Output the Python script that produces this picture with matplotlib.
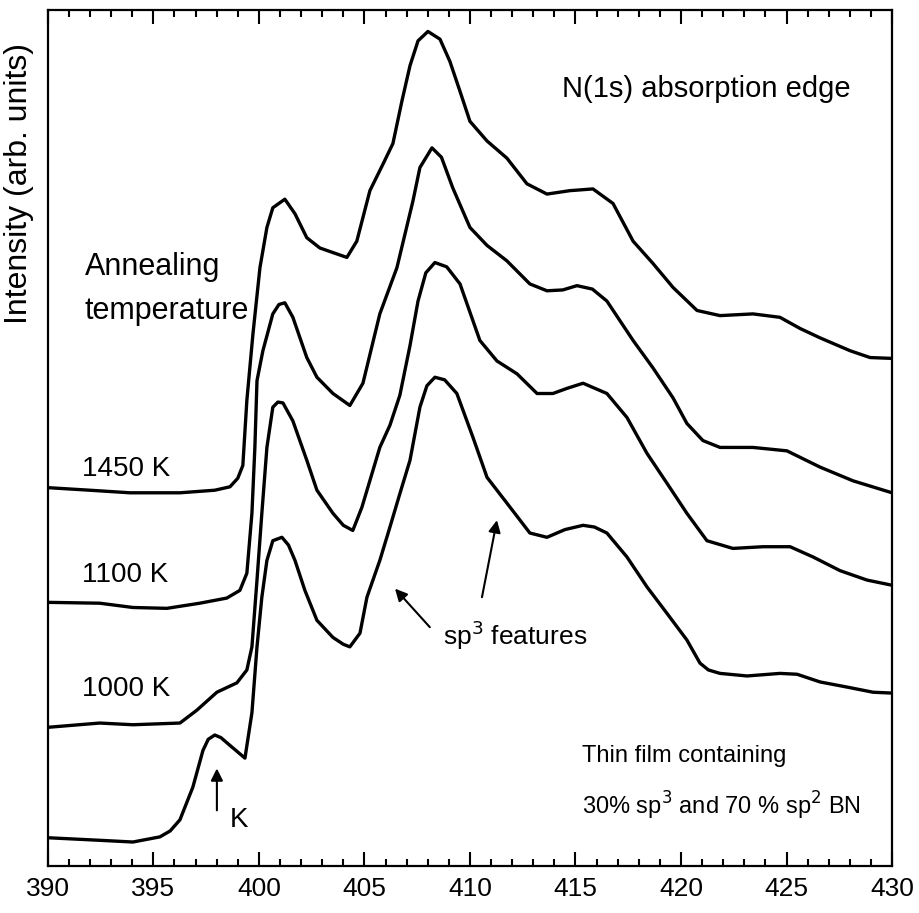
import matplotlib
matplotlib.use("Agg")
import matplotlib.pyplot as plt

plt.rcParams['font.family'] = ['Liberation Sans', 'DejaVu Sans']

## N(1s) NEXAFS spectra, photon energy (eV) vs intensity (arb. units, offset)
## bottom trace: as-deposited film (30% sp3 / 70% sp2 BN)
e_film = [390.00, 392.46, 394.03, 395.31, 395.80, 396.26, 396.87, 397.35, 397.60, 397.91,
          398.20, 398.48, 399.34, 399.67, 399.91, 400.14, 400.38, 400.66, 401.09, 401.40,
          401.71, 402.18, 402.75, 403.51, 404.00, 404.31, 404.79, 405.12, 405.73, 406.21,
          406.68, 407.16, 407.63, 407.96, 408.34, 408.80, 409.38, 410.14, 410.81, 411.75,
          412.84, 413.65, 414.50, 415.36, 415.90, 416.49, 417.44, 418.39, 419.34, 420.28,
          420.90, 421.30, 421.85, 423.13, 424.69, 425.50, 426.59, 427.87, 429.10, 430.00]
i_film = [3.3, 3.0, 2.8, 3.4, 4.1, 5.4, 9.2, 13.5, 14.8, 15.3,
          15.0, 14.4, 12.6, 17.9, 25.6, 31.4, 35.7, 38.0, 38.4, 37.5,
          35.7, 32.2, 28.7, 26.7, 25.9, 25.6, 27.2, 31.4, 35.7, 39.6,
          43.5, 47.4, 53.6, 56.1, 57.1, 56.8, 55.2, 50.1, 45.4, 42.4,
          38.9, 38.4, 39.3, 39.8, 39.6, 38.9, 36.1, 32.6, 29.5, 26.4,
          23.7, 22.9, 22.5, 22.2, 22.5, 22.4, 21.5, 20.9, 20.3, 20.2]

## annealed at 1000 K
e_1000 = [390.00, 392.46, 394.03, 396.26, 397.06, 398.01, 398.96, 399.43, 399.67, 399.91,
          400.14, 400.38, 400.66, 400.90, 401.14, 401.61, 402.27, 402.75, 403.51, 404.00,
          404.45, 404.88, 405.73, 406.21, 406.68, 407.16, 407.54, 407.91, 408.34, 408.90,
          409.53, 410.47, 411.28, 412.23, 413.18, 413.93, 414.60, 415.36, 416.49, 417.44,
          418.39, 419.34, 420.28, 421.23, 422.46, 423.89, 425.17, 426.26, 427.54, 428.82,
          430.00]
i_1000 = [16.2, 16.7, 16.5, 16.7, 18.2, 20.3, 21.4, 22.9, 25.6, 33.4,
          41.2, 48.9, 53.6, 54.2, 54.1, 52.0, 47.4, 43.9, 41.2, 39.8,
          39.2, 41.9, 48.9, 51.5, 55.0, 60.8, 66.0, 69.3, 70.5, 70.0,
          68.0, 61.4, 59.0, 57.5, 55.2, 55.2, 55.8, 56.4, 55.2, 52.4,
          48.2, 44.7, 41.2, 38.0, 37.1, 37.3, 37.3, 36.1, 34.5, 33.4,
          32.8]

## annealed at 1100 K
e_1100 = [390.00, 392.46, 394.03, 395.64, 397.20, 398.48, 399.10, 399.43, 399.67, 399.81,
          399.91, 400.19, 400.66, 400.95, 401.23, 401.61, 402.27, 402.75, 403.51, 404.31,
          404.93, 405.73, 406.54, 407.30, 407.63, 408.20, 408.65, 409.19, 410.00, 410.81,
          411.75, 412.84, 413.65, 414.40, 415.07, 415.80, 416.49, 417.73, 418.67, 419.62,
          420.28, 421.04, 421.85, 423.41, 425.02, 426.59, 428.15, 430.00]
i_1100 = [30.8, 30.7, 30.2, 30.1, 30.7, 31.3, 32.2, 34.2, 41.2, 48.9,
          56.7, 60.2, 64.5, 65.6, 65.8, 64.1, 59.4, 57.1, 55.2, 53.8,
          56.4, 64.5, 69.9, 77.7, 81.6, 83.9, 82.8, 79.2, 74.6, 72.5,
          70.7, 68.0, 67.2, 67.3, 67.8, 67.4, 66.0, 61.4, 58.2, 54.7,
          51.7, 49.7, 48.9, 48.9, 48.5, 46.6, 45.0, 43.6]

## annealed at 1450 K
e_1450 = [390.00, 391.99, 393.89, 396.26, 397.91, 398.63, 399.00, 399.24, 399.43, 399.72,
          400.05, 400.38, 400.66, 401.23, 401.71, 402.27, 402.89, 403.70, 404.17, 404.64,
          405.26, 405.88, 406.35, 406.78, 407.16, 407.54, 408.01, 408.58, 409.05, 409.53,
          410.00, 410.81, 411.75, 412.70, 413.65, 414.74, 415.83, 416.78, 417.73, 418.67,
          419.62, 420.76, 421.85, 423.41, 424.69, 425.64, 426.59, 428.01, 428.96, 430.00]
i_1450 = [44.2, 43.9, 43.6, 43.6, 43.9, 44.3, 45.3, 46.8, 54.4, 62.2,
          69.9, 74.6, 76.9, 77.9, 76.2, 73.4, 72.2, 71.5, 71.1, 73.0,
          78.9, 82.0, 84.4, 89.4, 93.5, 96.4, 97.5, 96.6, 94.0, 90.5,
          87.0, 84.7, 82.7, 79.7, 78.5, 78.9, 79.1, 77.4, 73.0, 70.4,
          67.6, 64.9, 64.3, 64.5, 64.1, 62.8, 61.7, 60.2, 59.4, 59.3]

fig = plt.figure(figsize=(9.2, 9.13), dpi=100)
ax = fig.add_axes([0.052, 0.0515, 0.9176, 0.9375])

for e, i in [(e_film, i_film), (e_1000, i_1000), (e_1100, i_1100), (e_1450, i_1450)]:
    ax.plot(e, i, color='black', lw=2.4, solid_joinstyle='round', solid_capstyle='round')

ax.set_xlim(390, 430)
ax.set_ylim(0, 100)
ax.set_xticks(range(390, 431, 5))
ax.set_xticks(range(390, 431, 1), minor=True)
ax.set_yticks([])
ax.tick_params(axis='x', which='both', direction='in', top=True, width=1.5, labelsize=19, pad=8)
ax.tick_params(axis='x', which='major', length=10)
ax.tick_params(axis='x', which='minor', length=5)
for s in ax.spines.values():
    s.set_linewidth(1.6)

ax.set_ylabel("Intensity (arb. units)", fontsize=23)
ax.yaxis.set_label_coords(-0.016, 0.797)

## labels
ax.text(0.78, 0.908, "N(1s) absorption edge", transform=ax.transAxes,
        fontsize=21, ha='center', va='center')
ax.text(0.044, 0.700, "Annealing", transform=ax.transAxes, fontsize=22, va='center')
ax.text(0.044, 0.648, "temperature", transform=ax.transAxes, fontsize=22, va='center')
ax.text(0.040, 0.464, "1450 K", transform=ax.transAxes, fontsize=20, va='center')
ax.text(0.040, 0.340, "1100 K", transform=ax.transAxes, fontsize=20, va='center')
ax.text(0.040, 0.2065, "1000 K", transform=ax.transAxes, fontsize=20, va='center')
ax.text(0.633, 0.129, "Thin film containing", transform=ax.transAxes, fontsize=17, va='center')
ax.text(0.633, 0.070, "30% sp$^3$ and 70 % sp$^2$ BN", transform=ax.transAxes,
        fontsize=17, va='center')
ax.text(0.468, 0.270, "sp$^3$ features", transform=ax.transAxes, fontsize=19, va='center')

## arrows
arrow = dict(arrowstyle='-|>', color='black', lw=1.5, mutation_scale=18, shrinkA=0, shrinkB=0)
ax.annotate("", xy=(406.45, 32.4), xytext=(408.10, 27.9), arrowprops=arrow)
ax.annotate("", xy=(411.28, 40.4), xytext=(410.57, 31.4), arrowprops=arrow)
ax.annotate("", xy=(398.01, 11.4), xytext=(398.01, 6.5), arrowprops=arrow)
ax.text(398.6, 5.4, "K", fontsize=20, va='center')

fig.savefig("out.png", dpi=100)
